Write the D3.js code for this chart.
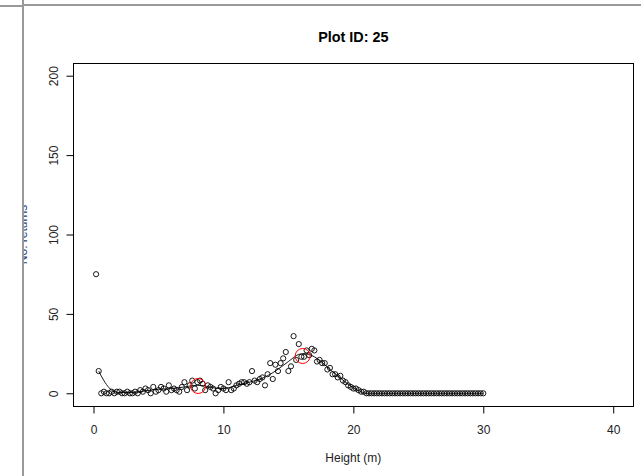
<!DOCTYPE html>
<html>
<head>
<meta charset="utf-8">
<script src="https://cdn.jsdelivr.net/npm/d3@7/dist/d3.min.js"></script>
<style>
  body { margin: 0; background: #fff; }
  text { font-family: "Liberation Sans", Arial, sans-serif; }
</style>
</head>
<body>
<svg id="chart" width="641" height="476"></svg>
<script>

// height bins (m)
var heights = [
  0.2, 0.4, 0.6, 0.8, 1.0, 1.2, 1.4, 1.6, 1.8, 2.0,
  2.2, 2.4, 2.6, 2.8, 3.0, 3.2, 3.4, 3.6, 3.8, 4.0,
  4.2, 4.4, 4.6, 4.8, 5.0, 5.2, 5.4, 5.6, 5.8, 6.0,
  6.2, 6.4, 6.6, 6.8, 7.0, 7.2, 7.4, 7.6, 7.8, 8.0,
  8.2, 8.4, 8.6, 8.8, 9.0, 9.2, 9.4, 9.6, 9.8, 10.0,
  10.2, 10.4, 10.6, 10.8, 11.0, 11.2, 11.4, 11.6, 11.8, 12.0,
  12.2, 12.4, 12.6, 12.8, 13.0, 13.2, 13.4, 13.6, 13.8, 14.0,
  14.2, 14.4, 14.6, 14.8, 15.0, 15.2, 15.4, 15.6, 15.8, 16.0,
  16.2, 16.4, 16.6, 16.8, 17.0, 17.2, 17.4, 17.6, 17.8, 18.0,
  18.2, 18.4, 18.6, 18.8, 19.0, 19.2, 19.4, 19.6, 19.8, 20.0,
  20.2, 20.4, 20.6, 20.8, 21.0, 21.2, 21.4, 21.6, 21.8, 22.0,
  22.2, 22.4, 22.6, 22.8, 23.0, 23.2, 23.4, 23.6, 23.8, 24.0,
  24.2, 24.4, 24.6, 24.8, 25.0, 25.2, 25.4, 25.6, 25.8, 26.0,
  26.2, 26.4, 26.6, 26.8, 27.0, 27.2, 27.4, 27.6, 27.8, 28.0,
  28.2, 28.4, 28.6, 28.8, 29.0, 29.2, 29.4, 29.6, 29.8, 30.0
];

// number of returns in each bin
var returns = [
  75, 14, 0, 1, 0, 0, 1, 0, 1, 1,
  0, 0, 1, 0, 0, 1, 0, 2, 1, 3,
  2, 0, 4, 1, 2, 4, 3, 1, 5, 2,
  3, 2, 1, 4, 7, 2, 5, 8, 3, 7,
  8, 6, 2, 5, 4, 3, 0, 2, 4, 3,
  2, 7, 2, 3, 5, 6, 7, 7, 6, 7,
  14, 8, 7, 9, 10, 5, 12, 19, 9, 18,
  14, 19, 22, 26, 14, 17, 36, 21, 31, 23,
  23, 27, 24, 28, 27, 20, 21, 19, 19, 15,
  16, 12, 12, 10, 11, 8, 7, 5, 4, 3,
  3, 2, 1, 1, 0, 0, 0, 0, 0, 0,
  0, 0, 0, 0, 0, 0, 0, 0, 0, 0,
  0, 0, 0, 0, 0, 0, 0, 0, 0, 0,
  0, 0, 0, 0, 0, 0, 0, 0, 0, 0,
  0, 0, 0, 0, 0, 0, 0, 0, 0, 0
];

// smoothed profile
var smoothX = [0.4, 0.8, 1.2, 1.6, 2.0, 3.0, 4.0, 5.0, 6.0, 7.0, 7.6, 8.0, 8.6, 9.2, 9.8, 10.4, 11.0, 12.0, 13.0, 14.0, 15.0, 15.8, 16.2, 17.0, 17.6, 18.2, 18.8, 19.4, 20.0, 20.6, 21.0, 30.0];
var smoothY = [14, 8, 3.5, 1, 0.5, 0.5, 1.5, 2.5, 3, 4, 4.8, 5, 4.6, 3.5, 3, 3.5, 5, 7, 9.5, 14, 20, 24.5, 25, 23, 19.5, 15, 11, 7, 3.5, 1, 0, 0];

// detected peaks
var peakX = [8.05, 16.1];
var peakY = [4.6, 23.5];

var xTicks = [0, 10, 20, 30, 40];
var yTicks = [0, 50, 100, 150, 200];

var svg = d3.select('#chart');

var plot = {left: 72.7, right: 634, top: 63, bottom: 406};

var x = d3.scaleLinear().domain([-1.6, 41.6]).range([plot.left, plot.right]);
var y = d3.scaleLinear().domain([-8, 208]).range([plot.bottom, plot.top]);

// title
svg.append('text')
  .attr('x', (plot.left + plot.right) / 2)
  .attr('y', 42)
  .attr('text-anchor', 'middle')
  .style('font-size', '14.4px')
  .style('font-weight', 'bold')
  .attr('fill', '#000')
  .text('Plot ID: 25');

// box
svg.append('rect')
  .attr('x', Math.round(plot.left) + 0.5)
  .attr('y', plot.top + 0.5)
  .attr('width', Math.round(plot.right) - Math.round(plot.left) - 1)
  .attr('height', plot.bottom - plot.top)
  .attr('fill', 'none')
  .attr('stroke', '#000')
  .attr('stroke-width', 1);

// x axis
var xAxis = svg.append('g')
  .attr('transform', 'translate(0,' + (plot.bottom + 0.5) + ')')
  .call(d3.axisBottom(x).tickValues(xTicks).tickSize(7).tickPadding(12));
xAxis.select('.domain').remove();
xAxis.selectAll('text').style('font-size', '12px').attr('fill', '#222').attr('font-family', null);
xAxis.selectAll('line').attr('stroke', '#000');

// y axis
var yAxis = svg.append('g')
  .attr('transform', 'translate(' + (Math.round(plot.left) + 0.5) + ',0)')
  .call(d3.axisLeft(y).tickValues(yTicks).tickSize(7));
yAxis.select('.domain').remove();
yAxis.selectAll('line').attr('stroke', '#000');
yAxis.selectAll('text')
  .attr('x', 0).attr('y', 0).attr('dy', 0)
  .attr('text-anchor', 'middle')
  .attr('transform', 'translate(-16,0) rotate(-90)')
  .style('font-size', '12px')
  .attr('fill', '#222')
  .attr('font-family', null);

// x label
svg.append('text')
  .attr('x', (plot.left + plot.right) / 2)
  .attr('y', 462)
  .attr('text-anchor', 'middle')
  .style('font-size', '12px')
  .attr('fill', '#222')
  .text('Height (m)');

// y label (mostly hidden behind the side panel)
svg.append('text')
  .attr('transform', 'translate(27,' + (plot.top + plot.bottom) / 2 + ') rotate(-90)')
  .attr('text-anchor', 'middle')
  .style('font-size', '12px')
  .attr('fill', '#2e4180')
  .text('No. returns');

// smoothed line
var line = d3.line()
  .x(function(d, i) { return x(smoothX[i]); })
  .y(function(d) { return y(d); })
  .curve(d3.curveMonotoneX);

svg.append('path')
  .datum(smoothY)
  .attr('d', line)
  .attr('fill', 'none')
  .attr('stroke', '#000')
  .attr('stroke-width', 0.9);

// points
svg.append('g').selectAll('circle')
  .data(returns)
  .enter()
  .append('circle')
  .attr('cx', function(d, i) { return x(heights[i]); })
  .attr('cy', function(d) { return y(d); })
  .attr('r', 2.6)
  .attr('fill', 'none')
  .attr('stroke', '#000')
  .attr('stroke-width', 0.9);

// peaks
svg.append('g').selectAll('circle')
  .data(peakY)
  .enter()
  .append('circle')
  .attr('cx', function(d, i) { return x(peakX[i]); })
  .attr('cy', function(d) { return y(d); })
  .attr('r', 7.5)
  .attr('fill', 'none')
  .attr('stroke', '#ff0000')
  .attr('stroke-width', 1);

// window frame: side panel and top border
svg.append('rect')
  .attr('x', 0).attr('y', 0).attr('width', 22).attr('height', 476)
  .attr('fill', '#fff');
svg.append('line')
  .attr('x1', 23).attr('x2', 23).attr('y1', 0).attr('y2', 476)
  .attr('stroke', '#999').attr('stroke-width', 2);
svg.append('line')
  .attr('x1', 23).attr('x2', 641).attr('y1', 5).attr('y2', 5)
  .attr('stroke', '#999').attr('stroke-width', 2);
svg.append('line')
  .attr('x1', 0).attr('x2', 23).attr('y1', 6).attr('y2', 6)
  .attr('stroke', '#999').attr('stroke-width', 2);

</script>
</body>
</html>
